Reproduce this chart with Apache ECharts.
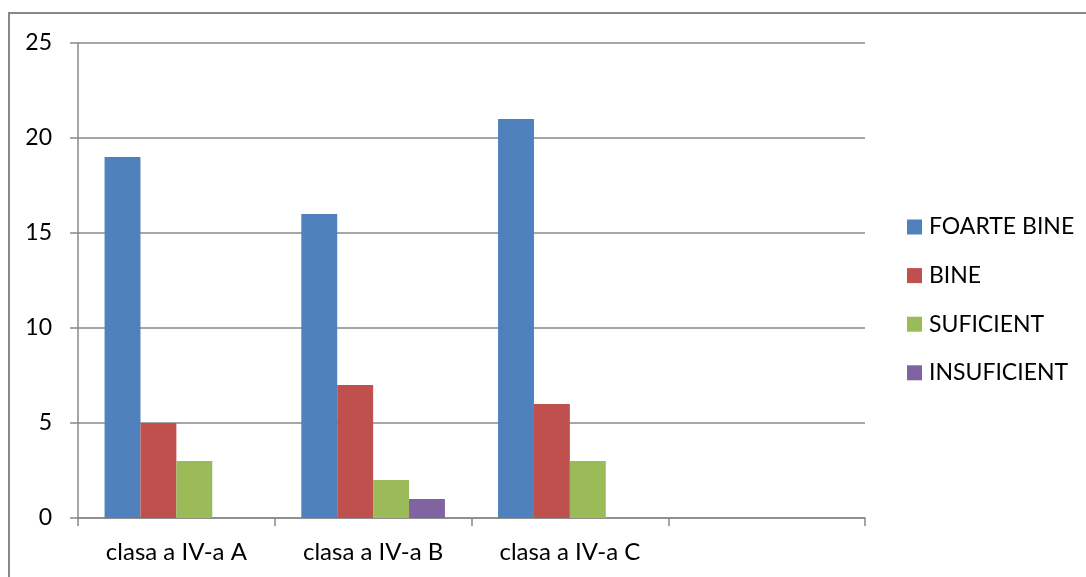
<!DOCTYPE html>
<html>
<head>
<meta charset="utf-8">
<script src="https://cdn.jsdelivr.net/npm/echarts@6/dist/echarts.min.js"></script>
<style>
  html, body { margin: 0; padding: 0; background: #fff; }
  #chart { width: 1086px; height: 577px; }
</style>
</head>
<body>
<div id="chart"></div>
<script>
// categories (4th slot is empty in the original sheet)
const categories = ['clasa a IV-a A', 'clasa a IV-a B', 'clasa a IV-a C', '']
const seriesNames = ['FOARTE BINE', 'BINE', 'SUFICIENT', 'INSUFICIENT']
const foarteBine = [19, 16, 21, null]
const bine = [5, 7, 6, null]
const suficient = [3, 2, 3, null]
const insuficient = [0, 1, 0, null]
const colors = ['#4F81BD', '#C0504D', '#9BBB59', '#8064A2']

const font = 'Lato, "Open Sans", sans-serif'
const chart = echarts.init(document.getElementById('chart'))

const makeSeries = (name, data) => ({
  name: name,
  type: 'bar',
  barGap: '0%',
  barCategoryGap: '27%',
  data: data
})

let option = {
  animation: false,
  color: colors,
  textStyle: { fontFamily: font },
  graphic: [
    {
      // outer chart frame
      type: 'rect',
      shape: { x: 9, y: 13, width: 1100, height: 600 },
      style: { fill: 'none', stroke: '#878787', lineWidth: 2 },
      silent: true
    }
  ],
  grid: {
    left: 78,
    right: 221,
    top: 43,
    bottom: 59
  },
  legend: {
    orient: 'vertical',
    left: 907,
    top: 215,
    padding: 0,
    itemWidth: 15,
    itemHeight: 15,
    itemGap: 24.6,
    icon: 'rect',
    data: seriesNames,
    textStyle: { fontSize: 23, lineHeight: 24, color: '#000', fontFamily: font, padding: [0, 0, 0, 2] }
  },
  xAxis: {
    type: 'category',
    data: categories,
    axisLine: { show: true, lineStyle: { color: '#888', width: 1.5 } },
    axisTick: { show: true, length: 8, lineStyle: { color: '#888', width: 1.5 } },
    axisLabel: { color: '#000', fontSize: 24, margin: 22, fontFamily: font, interval: 0 }
  },
  yAxis: {
    type: 'value',
    min: 0,
    max: 25,
    interval: 5,
    axisLine: { show: true, lineStyle: { color: '#888', width: 1.5 } },
    axisTick: { show: true, length: 8, lineStyle: { color: '#888', width: 1.5 } },
    axisLabel: { color: '#000', fontSize: 23, margin: 26, fontFamily: font },
    splitLine: { show: true, lineStyle: { color: '#888', width: 1.5 } }
  },
  series: [
    makeSeries(seriesNames[0], foarteBine),
    makeSeries(seriesNames[1], bine),
    makeSeries(seriesNames[2], suficient),
    makeSeries(seriesNames[3], insuficient)
  ]
}
chart.setOption(option)
</script>
</body>
</html>
